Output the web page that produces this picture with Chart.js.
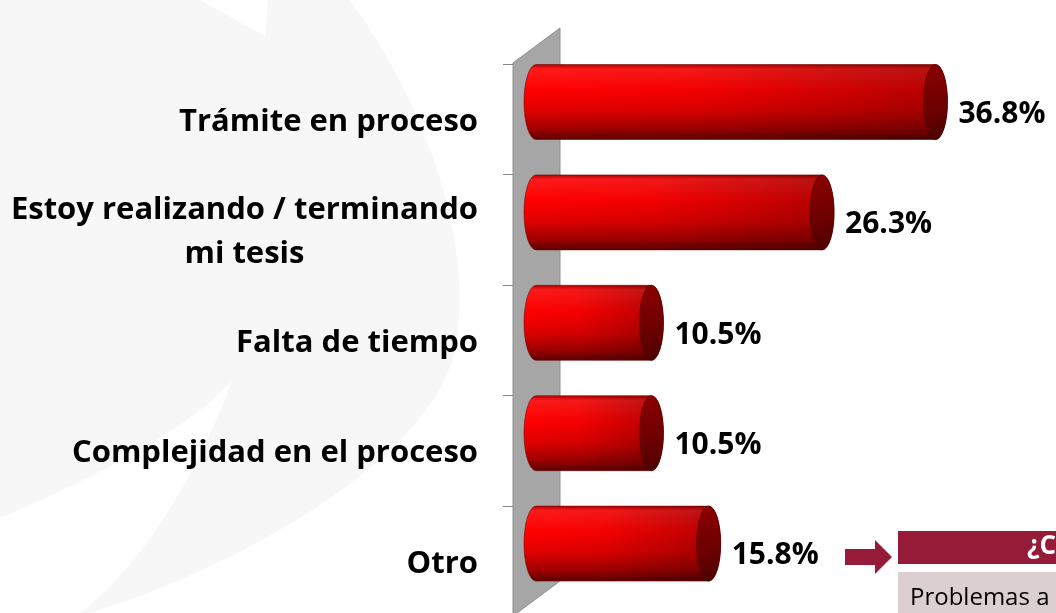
<!DOCTYPE html>
<html>
<head>
<meta charset="utf-8">
<script src="https://cdn.jsdelivr.net/npm/chart.js@4.4.1/dist/chart.umd.min.js"></script>
<style>
  html, body { margin: 0; padding: 0; background: #fff; width: 1056px; height: 613px; overflow: hidden; }
  #wrap { position: absolute; left: 0; top: 0; width: 1056px; height: 630px; }
  .arrow { position: absolute; left: 844px; top: 540px; }
  .note-head { position: absolute; left: 898px; top: 531px; width: 200px; height: 33px; background: #951b39;
    color: #fff; font: bold 26px "Open Sans", sans-serif; line-height: 33px; white-space: nowrap; }
  .note-head span { position: absolute; left: 129px; top: -3px; }
  .note-body { position: absolute; left: 898px; top: 572px; width: 200px; height: 60px; background: #dccfd2;
    color: #000; font: 24px "Open Sans", sans-serif; white-space: nowrap; }
  .note-body span { position: absolute; left: 12px; top: 7px; }
</style>
</head>
<body>
<div id="wrap"><canvas id="chart"></canvas></div>
<svg class="arrow" width="50" height="36"><polygon points="1,9 31,9 31,0 48,17 31,34 31,25 1,25" fill="#951b39"/></svg>
<div class="note-head"><span>¿C</span></div>
<div class="note-body"><span>Problemas a</span></div>
<script>
const categories = ['Trámite en proceso', ['Estoy realizando / terminando', 'mi tesis'], 'Falta de tiempo', 'Complejidad en el proceso', 'Otro'];
const percentages = [36.8, 26.3, 10.5, 10.5, 15.8];
const valueLabels = ['36.8%', '26.3%', '10.5%', '10.5%', '15.8%'];

// faint watermark behind everything
const backdrop = {
  id: 'backdrop',
  beforeDraw(chart) {
    const ctx = chart.ctx;
    ctx.save();
    ctx.fillStyle = '#f7f7f7';
    ctx.beginPath();
    ctx.moveTo(0, 0);
    ctx.lineTo(200, 0);
    ctx.lineTo(265, 36);
    ctx.lineTo(268, 0);
    ctx.lineTo(350, 0);
    ctx.bezierCurveTo(430, 110, 475, 250, 455, 350);
    ctx.bezierCurveTo(435, 450, 260, 560, 90, 613);
    ctx.lineTo(0, 613);
    ctx.closePath();
    ctx.fill();
    ctx.fillStyle = '#ffffff';
    ctx.beginPath();
    ctx.moveTo(0, 518);
    ctx.bezierCurveTo(90, 480, 190, 430, 232, 380);
    ctx.bezierCurveTo(200, 470, 140, 570, 80, 613);
    ctx.lineTo(0, 613);
    ctx.closePath();
    ctx.fill();
    ctx.restore();
  }
};

// grey side wall and tick marks
const wall = {
  id: 'wall',
  beforeDatasetsDraw(chart) {
    const ctx = chart.ctx;
    const a = chart.chartArea;
    const y = chart.scales.y;
    const band = (y.bottom - y.top) / categories.length;
    const x1 = a.left - 37, x2 = a.left + 10, depth = 35;
    ctx.save();
    ctx.fillStyle = '#a6a6a6';
    ctx.beginPath();
    ctx.moveTo(x1, a.top - 1);
    ctx.lineTo(x2, a.top - 1 - depth);
    ctx.lineTo(x2, a.bottom - depth);
    ctx.lineTo(x1, a.bottom);
    ctx.closePath();
    ctx.fill();
    ctx.strokeStyle = '#8e8e8e';
    ctx.lineWidth = 1;
    ctx.stroke();
    ctx.strokeStyle = '#888';
    for (let i = 0; i < categories.length; i++) {
      const ty = Math.round(y.top + i * band) + 0.5;
      ctx.beginPath();
      ctx.moveTo(x1 - 10, ty);
      ctx.lineTo(x1, ty);
      ctx.stroke();
    }
    ctx.restore();
  }
};

// draw each bar as a red cylinder from the bar element geometry
const cylinders = {
  id: 'cylinders',
  afterDatasetsDraw(chart) {
    const ctx = chart.ctx;
    const y = chart.scales.y;
    const band = (y.bottom - y.top) / categories.length;
    const meta = chart.getDatasetMeta(0);
    meta.data.forEach(bar => {
      const rx = 12;
      const yT = bar.y - band / 2 + 0.5;
      const yB = yT + bar.height;
      const cy = (yT + yB) / 2, ry = (yB - yT) / 2;
      const xL = bar.base - 14;
      const xR = bar.x - rx;

      ctx.save();
      ctx.beginPath();
      ctx.moveTo(xL, yT);
      ctx.lineTo(xR, yT);
      ctx.ellipse(xR, cy, rx, ry, 0, -Math.PI / 2, Math.PI / 2);
      ctx.lineTo(xL, yB);
      ctx.ellipse(xL, cy, rx, ry, 0, Math.PI / 2, Math.PI * 1.5);
      ctx.closePath();
      const g = ctx.createLinearGradient(0, yT, 0, yB);
      g.addColorStop(0, '#b80000');
      g.addColorStop(0.06, '#ff1a1a');
      g.addColorStop(0.35, '#ff0000');
      g.addColorStop(0.62, '#e00000');
      g.addColorStop(0.86, '#a00000');
      g.addColorStop(1, '#5e0000');
      ctx.fillStyle = g;
      ctx.fill();
      const h = ctx.createLinearGradient(xL - rx, 0, xR + rx, 0);
      h.addColorStop(0, 'rgba(0,0,0,0)');
      h.addColorStop(0.4, 'rgba(30,0,0,0.05)');
      h.addColorStop(1, 'rgba(30,0,0,0.33)');
      ctx.fillStyle = h;
      ctx.fill();
      ctx.strokeStyle = 'rgba(110,0,0,0.55)';
      ctx.lineWidth = 1;
      ctx.stroke();

      ctx.beginPath();
      ctx.ellipse(xR, cy, rx, ry, 0, 0, Math.PI * 2);
      const c = ctx.createLinearGradient(xR - rx, yT, xR + rx, yB);
      c.addColorStop(0, '#8e0000');
      c.addColorStop(0.6, '#6c0000');
      c.addColorStop(1, '#4a0000');
      ctx.fillStyle = c;
      ctx.fill();
      ctx.strokeStyle = 'rgba(80,0,0,0.7)';
      ctx.stroke();
      ctx.restore();
    });
  }
};

// category names on the left and percentages at the bar ends
const texts = {
  id: 'texts',
  afterDraw(chart) {
    const ctx = chart.ctx;
    const a = chart.chartArea;
    const y = chart.scales.y;
    const meta = chart.getDatasetMeta(0);
    ctx.save();
    ctx.fillStyle = '#000';
    ctx.textBaseline = 'middle';
    ctx.font = 'bold 31px "Open Sans"';
    const right = a.left - 72;
    categories.forEach((lab, i) => {
      const cy = y.getPixelForTick(i) + 3;
      const lines = Array.isArray(lab) ? lab : [lab];
      const lh = 44;
      const w = Math.max(...lines.map(l => ctx.measureText(l).width));
      ctx.textAlign = 'center';
      lines.forEach((l, j) => {
        ctx.fillText(l, right - w / 2, cy + (j - (lines.length - 1) / 2) * lh);
      });
    });
    ctx.font = 'bold 30px "Open Sans"';
    ctx.textAlign = 'left';
    meta.data.forEach((bar, i) => {
      ctx.fillText(valueLabels[i], bar.x + 11, y.getPixelForTick(i) - 5);
    });
    ctx.restore();
  }
};

new Chart(document.getElementById('chart'), {
  type: 'bar',
  data: {
    labels: categories,
    datasets: [{
      data: percentages,
      backgroundColor: 'rgba(0,0,0,0)',
      borderWidth: 0,
      barThickness: 75
    }]
  },
  options: {
    indexAxis: 'y',
    responsive: true,
    maintainAspectRatio: false,
    animation: false,
    layout: { padding: { left: 550, right: 74, top: 64, bottom: 14 } },
    scales: {
      x: { display: false, min: 0, max: 40 },
      y: { display: false }
    },
    plugins: {
      legend: { display: false },
      tooltip: { enabled: false }
    }
  },
  plugins: [backdrop, wall, cylinders, texts]
});
</script>
</body>
</html>
